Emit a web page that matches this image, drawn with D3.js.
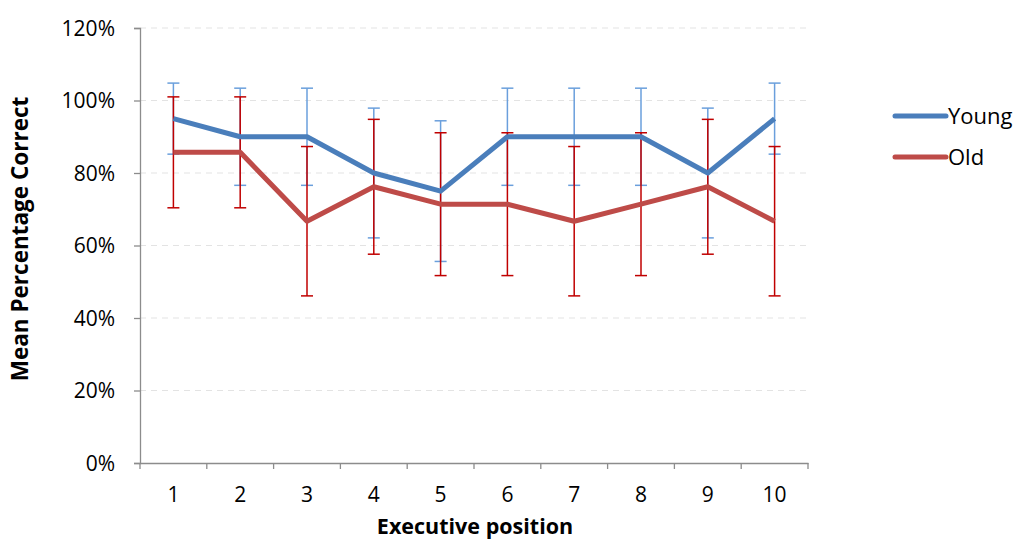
<!DOCTYPE html>
<html><head><meta charset="utf-8">
<script src="https://cdn.jsdelivr.net/npm/d3@7/dist/d3.min.js"></script>
<style>
body{margin:0;background:#fff;}
text{font-family:"Open Sans","Lato",sans-serif;fill:#000;}
</style></head>
<body><svg id="c" width="1017" height="541"></svg>
<script>
const categories = ["1","2","3","4","5","6","7","8","9","10"];
const youngValues = [95, 90, 90, 80, 75, 90, 90, 90, 80, 95];
const oldValues = [85.7, 85.7, 66.7, 76.2, 71.4, 71.4, 66.7, 71.4, 76.2, 66.7];
const youngErr = [9.8, 13.4, 13.4, 17.9, 19.4, 13.4, 13.4, 13.4, 17.9, 9.8];
const oldErr = [15.3, 15.3, 20.6, 18.6, 19.7, 19.7, 20.6, 19.7, 18.6, 20.6];
const yTicks = [0, 20, 40, 60, 80, 100, 120];
const seriesNames = ["Young", "Old"];

const svg = d3.select("#c");
const m = {left:140, right:808, top:28, bottom:463};
const x = d3.scaleBand().domain(categories).range([m.left, m.right]).padding(0);
const y = d3.scaleLinear().domain([0,120]).range([m.bottom, m.top]);
const cx = d => x(d) + x.bandwidth()/2;

// gridlines
svg.append("g").selectAll("line").data(yTicks.filter(t=>t>0)).join("line")
  .attr("x1", m.left).attr("x2", m.right)
  .attr("y1", d=>y(d)).attr("y2", d=>y(d))
  .attr("stroke", "#e3e3e3").attr("stroke-width", 1.2).attr("stroke-dasharray", "6,5");

// y axis
const yAxis = svg.append("g").attr("transform", `translate(${m.left},0)`)
  .call(d3.axisLeft(y).tickValues(yTicks).tickFormat(d=>d+"%").tickSize(6).tickPadding(19));
yAxis.select(".domain").attr("stroke", "#8c8c8c").attr("stroke-width", 1.3);
yAxis.selectAll(".tick line").attr("stroke", "#8c8c8c").attr("stroke-width", 1.3);
yAxis.selectAll("text").style("font-size", "21px").attr("dy", "0.35em");

// x axis
const xAxis = svg.append("g").attr("transform", `translate(0,${m.bottom})`)
  .call(d3.axisBottom(x).tickSize(0).tickPadding(24));
xAxis.select(".domain").attr("stroke", "#8c8c8c").attr("stroke-width", 1.3);
xAxis.selectAll("text").style("font-size", "21px");
svg.append("g").selectAll("line").data(categories.concat(["_end"])).join("line")
  .attr("x1", (d,i)=> m.left + i*x.bandwidth()).attr("x2", (d,i)=> m.left + i*x.bandwidth())
  .attr("y1", m.bottom).attr("y2", m.bottom+6)
  .attr("stroke", "#8c8c8c").attr("stroke-width", 1.3);

// error bars
function errBars(vals, errs, color) {
  const g = svg.append("g").attr("stroke", color).attr("stroke-width", 1.5).attr("fill","none");
  categories.forEach((c,i)=>{
    const hi = y(vals[i]+errs[i]), lo = y(vals[i]-errs[i]);
    g.append("line").attr("x1", cx(c)).attr("x2", cx(c)).attr("y1", hi).attr("y2", lo);
    g.append("line").attr("x1", cx(c)-6).attr("x2", cx(c)+6).attr("y1", hi).attr("y2", hi);
    g.append("line").attr("x1", cx(c)-6).attr("x2", cx(c)+6).attr("y1", lo).attr("y2", lo);
  });
}
errBars(youngValues, youngErr, "#6a9fdc");
errBars(oldValues, oldErr, "#c00000");

// lines
const line = d3.line().x((d,i)=>cx(categories[i])).y(d=>y(d));
const colors = ["#4a7ebb", "#be4b48"];
[youngValues, oldValues].forEach((vals, k)=>{
  svg.append("path").datum(vals).attr("d", line)
    .attr("fill","none").attr("stroke", colors[k]).attr("stroke-width", 5)
    .attr("stroke-linejoin","round");
});

// legend
seriesNames.forEach((n,k)=>{
  const ly = 116 + k*41;
  svg.append("line").attr("x1", 895).attr("x2", 946).attr("y1", ly).attr("y2", ly)
    .attr("stroke", colors[k]).attr("stroke-width", 5).attr("stroke-linecap","round");
  svg.append("text").attr("x", 948).attr("y", ly).attr("dy","0.35em")
    .style("font-size","22px").text(n);
});

// axis titles
svg.append("text").attr("x", 475).attr("y", 534).attr("text-anchor","middle")
  .style("font-size","21.5px").style("font-weight","bold").text("Executive position");
svg.append("text").attr("transform", "translate(28,239) rotate(-90)").attr("text-anchor","middle")
  .style("font-size","22.5px").style("font-weight","bold").text("Mean Percentage Correct");
</script></body></html>
